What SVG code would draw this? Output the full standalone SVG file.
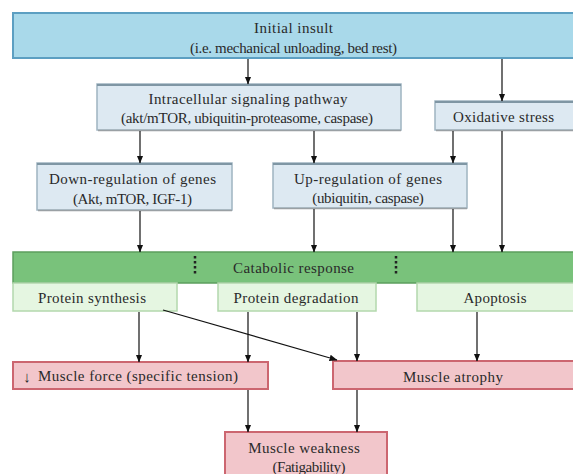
<svg xmlns="http://www.w3.org/2000/svg" width="573" height="474" viewBox="0 0 573 474">
<defs>
<marker id="ah" viewBox="0 0 8 8" refX="7.5" refY="4" markerWidth="8" markerHeight="8" markerUnits="userSpaceOnUse" orient="auto">
<path d="M0,0.8 L8,4 L0,7.2 Z" fill="#111"/>
</marker>
</defs>
<style>
text{font-family:'Liberation Serif','Times New Roman',serif;font-size:15px;fill:#2a2a2a;text-anchor:middle}
.top{fill:#a9d9ea;stroke:#5c9fc2;stroke-width:2}
.blue{fill:#dde9f2;stroke:#9fb4c1;stroke-width:1.5}
.bluetop{stroke:#7f96a4;stroke-width:2}
.green{fill:#79c27b;stroke:#5c9e5e;stroke-width:1.5}
.lgreen{fill:#e5f6e1;stroke:#b3d8ad;stroke-width:1.5}
.red{fill:#f2c6cb;stroke:#cc6670;stroke-width:2}
.shadow{stroke:#9aa0a4;stroke-width:1.5}
.conn line{stroke:#111;stroke-width:1.2;marker-end:url(#ah)}
.dots{stroke:#222;stroke-width:2.5;stroke-dasharray:2.5 2.5}
</style>
<g font-family="Liberation Serif, Times New Roman, serif">
<g id="initial-insult">
<rect class="top" x="13" y="13" width="564" height="45"/>
<text x="293.5" y="33" textLength="79" lengthAdjust="spacing">Initial insult</text>
<text x="293.5" y="53" textLength="207" lengthAdjust="spacing">(i.e. mechanical unloading, bed rest)</text>
</g>

<g id="intracellular">
<rect class="blue" x="97" y="84" width="304" height="46"/>
<line class="bluetop" x1="97" y1="85" x2="401" y2="85"/>
<line class="shadow" x1="98" y1="130.5" x2="401" y2="130.5"/>
<text x="248" y="104" textLength="199" lengthAdjust="spacing">Intracellular signaling pathway</text>
<text x="247" y="123" textLength="252" lengthAdjust="spacing">(akt/mTOR, ubiquitin-proteasome, caspase)</text>
</g>

<g id="oxidative-stress">
<rect class="blue" x="435" y="101" width="142" height="29"/>
<line class="bluetop" x1="435" y1="102" x2="577" y2="102"/>
<line class="shadow" x1="436" y1="130.5" x2="577" y2="130.5"/>
<text x="503.5" y="122" textLength="101" lengthAdjust="spacing">Oxidative stress</text>
</g>

<g id="down-regulation">
<rect class="blue" x="37" y="163" width="195" height="47"/>
<line class="bluetop" x1="37" y1="164" x2="232" y2="164"/>
<line class="shadow" x1="38" y1="210.5" x2="232" y2="210.5"/>
<text x="132.5" y="184" textLength="167" lengthAdjust="spacing">Down-regulation of genes</text>
<text x="132.5" y="204" textLength="119" lengthAdjust="spacing">(Akt, mTOR, IGF-1)</text>
</g>

<g id="up-regulation">
<rect class="blue" x="273" y="163" width="194" height="45"/>
<line class="bluetop" x1="273" y1="164" x2="467" y2="164"/>
<line class="shadow" x1="274" y1="208.5" x2="467" y2="208.5"/>
<text x="368" y="184" textLength="148" lengthAdjust="spacing">Up-regulation of genes</text>
<text x="368" y="203" textLength="111.5" lengthAdjust="spacing">(ubiquitin, caspase)</text>
</g>

<g id="catabolic-response">
<rect class="green" x="13" y="252" width="564" height="31"/>
<line class="dots" x1="195" y1="256" x2="195" y2="276"/>
<line class="dots" x1="396" y1="256" x2="396" y2="276"/>
<text x="293.5" y="273" textLength="121" lengthAdjust="spacing">Catabolic response</text>
</g>

<g id="protein-synthesis">
<rect class="lgreen" x="13" y="283" width="164" height="28"/>
<text x="92" y="303" textLength="108" lengthAdjust="spacing">Protein synthesis</text>
</g>

<g id="protein-degradation">
<rect class="lgreen" x="218" y="283" width="158" height="28"/>
<text x="296" y="303" textLength="125" lengthAdjust="spacing">Protein degradation</text>
</g>

<g id="apoptosis">
<rect class="lgreen" x="417" y="283" width="160" height="28"/>
<text x="495" y="303" textLength="63" lengthAdjust="spacing">Apoptosis</text>
</g>

<g id="muscle-force">
<rect class="red" x="13" y="362" width="255" height="27"/>
<text x="27" y="382" font-size="17">↓</text>
<text x="138" y="381" textLength="200" lengthAdjust="spacing">Muscle force (specific tension)</text>
</g>

<g id="muscle-atrophy">
<rect class="red" x="333" y="361" width="244" height="28"/>
<text x="453" y="382" textLength="100" lengthAdjust="spacing">Muscle atrophy</text>
</g>

<g id="muscle-weakness">
<rect class="red" x="225" y="432" width="162" height="46"/>
<text x="304" y="453" textLength="111.5" lengthAdjust="spacing">Muscle weakness</text>
<text x="309" y="472" textLength="73" lengthAdjust="spacing">(Fatigability)</text>
</g>
</g>
<g id="connectors" class="conn">
<line x1="248" y1="59" x2="248" y2="84"/>
<line x1="502" y1="59" x2="502" y2="101"/>
<line x1="140" y1="131" x2="140" y2="163"/>
<line x1="314" y1="131" x2="314" y2="163"/>
<line x1="453" y1="131" x2="453" y2="163"/>
<line x1="140" y1="211" x2="140" y2="252"/>
<line x1="314" y1="209" x2="314" y2="252"/>
<line x1="453" y1="209" x2="453" y2="252"/>
<line x1="502" y1="131" x2="502" y2="252"/>
<line x1="139" y1="312" x2="139" y2="362"/>
<line x1="248" y1="312" x2="248" y2="362"/>
<line x1="357" y1="312" x2="357" y2="361"/>
<line x1="477" y1="312" x2="477" y2="361"/>
<line x1="163" y1="310" x2="337" y2="360"/>
<line x1="248" y1="390" x2="248" y2="432"/>
<line x1="357" y1="390" x2="357" y2="432"/>
</g>
</svg>
